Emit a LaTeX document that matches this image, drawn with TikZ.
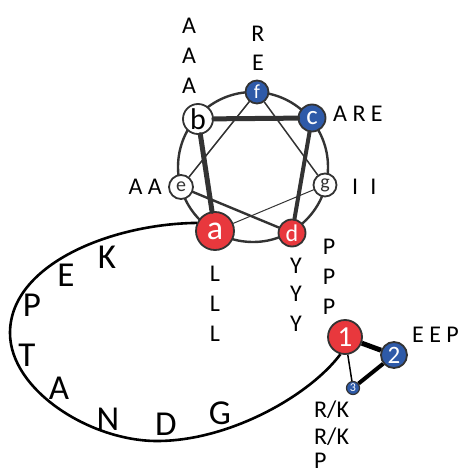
\documentclass[tikz,border=0pt]{standalone}
\usepackage{fontspec}
\setmainfont{Carlito}
\definecolor{wheelred}{HTML}{E8383D}
\definecolor{wheelblue}{HTML}{2E5AA8}
\definecolor{rim}{HTML}{333333}
\newcommand{\fs}[1]{\fontsize{#1}{#1}\selectfont}
\tikzset{
  res/.style={circle, draw=rim, line width=1.8pt, inner sep=0pt},
  redres/.style={res, fill=wheelred, text=white},
  blueres/.style={res, fill=wheelblue, text=white},
  whiteres/.style={res, fill=white, text=black},
  lab/.style={inner sep=0pt, font=\fs{24}},
  big/.style={inner sep=0pt, font=\fs{35}},
  link/.style={draw=rim, line cap=round}
}
\begin{document}
\begin{tikzpicture}[x=1pt, y=-1pt]
\useasboundingbox (0,0) rectangle (460,476);

% helical wheel rim
\draw[rim, line width=2.4pt] (253,167) circle[radius=75pt];

% residues of the wheel
\node[redres,   minimum size=38pt, font=\fs{34}] (a) at (215,231) {a};
\node[whiteres, minimum size=30pt, font=\fs{30}] (b) at (198,119) {b};
\node[blueres,  minimum size=27pt, font=\fs{27}] (c) at (312,118) {c};
\node[redres,   minimum size=27pt, font=\fs{24}] (d) at (292,233) {d};
\node[whiteres, minimum size=24pt, font=\fs{20}, text=rim] (e) at (181,187) {e};
\node[blueres,  minimum size=23pt, font=\fs{20}] (f) at (257,92) {f};
\node[whiteres, minimum size=23pt, font=\fs{20}, text=rim] (g) at (325,185) {g};

% heptad connections, thinning along the sequence
\draw[link, line width=5pt]   (a) -- (b);
\draw[link, line width=5pt]   (b) -- (c);
\draw[link, line width=4pt]   (c) -- (d);
\draw[link, line width=2.4pt] (d) -- (e);
\draw[link, line width=1.5pt] (e) -- (f);
\draw[link, line width=1.5pt] (f) -- (g);
\draw[link, line width=1pt]   (g) -- (a);

% residue labels around the wheel
\node[lab] (b1) at (189,26) {A};
\node[lab] (b2) at (189,56) {A};
\node[lab] (b3) at (189,86) {A};
\node[lab] (f1) at (258,34) {R};
\node[lab] (f2) at (258,63) {E};
\node[lab, anchor=west] (c1) at (333,114) {A R E};
\node[lab, anchor=east] (e1) at (162,187) {A A};
\node[lab, anchor=west] (g1) at (352,187) {I\,\,\,I};
\node[lab] (a1) at (215,274) {L};
\node[lab] (a2) at (215,304) {L};
\node[lab] (a3) at (215,334) {L};
\node[lab] (d1) at (296,266) {Y};
\node[lab] (d2) at (296,294) {Y};
\node[lab] (d3) at (296,324) {Y};
\node[lab] (p1) at (329,247) {P};
\node[lab] (p2) at (329,277) {P};
\node[lab] (p3) at (329,307) {P};

% small triangle motif
\node[redres,  minimum size=34pt, font=\fs{29}] (n1) at (345,337) {1};
\node[blueres, minimum size=26pt, font=\fs{25}] (n2) at (394,355) {2};
\node[blueres, minimum size=13pt, line width=1.2pt, font=\fs{12}] (n3) at (353,388) {3};
\draw[black, line width=5pt]   (n1) -- (n2);
\draw[black, line width=4pt]   (n2) -- (n3);
\draw[black, line width=1.5pt] (n1) -- (n3);
\node[lab, anchor=west] (t1) at (412,335) {E E P};
\node[lab, anchor=west] (r1) at (314,410) {R/K};
\node[lab, anchor=west] (r2) at (314,437) {R/K};
\node[lab, anchor=west] (r3) at (314,461) {P};

% loop joining the wheel to the motif
\coordinate (lw) at (10,333);
\coordinate (lb) at (157,441);
\draw[black, line width=2.6pt]
  (a.156) .. controls (110,224) and (10,265) .. (lw)
          .. controls (10,390) and (90,441) .. (lb)
          .. controls (230,441) and (310,395) .. (n1.255);

% loop sequence
\node[big] (k)  at (107,257) {K};
\node[big] (e2) at (66,275)  {E};
\node[big] (p4) at (32,305)  {P};
\node[big] (t)  at (27,355)  {T};
\node[big] (a4) at (59,388)  {A};
\node[big] (nn) at (108,419) {N};
\node[big] (dd) at (166,424) {D};
\node[big] (gg) at (220,413) {G};
\end{tikzpicture}
\end{document}
